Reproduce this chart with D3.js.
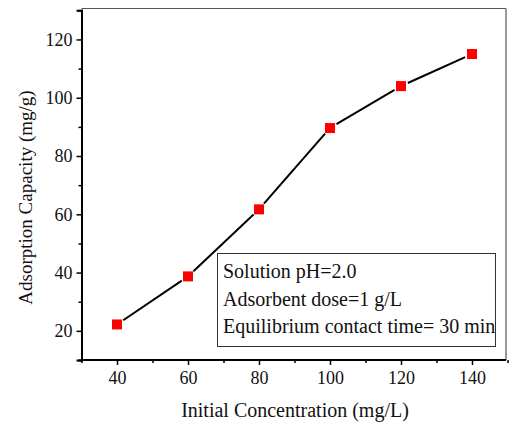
<!DOCTYPE html>
<html><head><meta charset="utf-8">
<script src="https://cdn.jsdelivr.net/npm/d3@7/dist/d3.min.js"></script>
<style>body{margin:0;background:#fff}svg{display:block}</style>
</head><body>
<svg id="c" width="509" height="424"></svg>
<script>
const concentrations = [40, 60, 80, 100, 120, 140];
const capacities = [22.2, 38.7, 61.7, 89.6, 104, 115];
const xTicks = [40, 60, 80, 100, 120, 140];
const yTicks = [20, 40, 60, 80, 100, 120];
const legendLines = ["Solution pH=2.0", "Adsorbent dose=1 g/L", "Equilibrium contact time= 30 min"];
const xTitle = "Initial Concentration (mg/L)";
const yTitle = "Adsorption Capacity (mg/g)";

const svg = d3.select("#c");
const font = "Liberation Serif, Times New Roman, serif";
const L = 81.5, R = 506, T = 8.5, B = 360;
const x = d3.scaleLinear().domain([30, 150]).range([L, L + 120 * 3.55]);
const y = d3.scaleLinear().domain([10, 130]).range([B, B - 120 * 2.914]);

svg.append("line").attr("x1", L).attr("x2", R).attr("y1", T).attr("y2", T).attr("stroke", "#555").attr("stroke-width", 1);
svg.append("line").attr("x1", R).attr("x2", R).attr("y1", T).attr("y2", B).attr("stroke", "#777").attr("stroke-width", 1.5);

const xAxis = d3.axisBottom(x).tickValues(xTicks).tickSize(5).tickPadding(6).tickFormat(d3.format("d"));
const yAxis = d3.axisLeft(y).tickValues(yTicks).tickSize(5).tickPadding(4).tickFormat(d3.format("d"));
const gx = svg.append("g").attr("transform", `translate(0,${B})`).call(xAxis);
const gy = svg.append("g").attr("transform", `translate(${L},0)`).call(yAxis);
const xMinor = d3.axisBottom(x).tickValues(d3.range(30, 151, 20)).tickSize(3).tickFormat("");
const yMinor = d3.axisLeft(y).tickValues(d3.range(10, 131, 20)).tickSize(3).tickFormat("");
const gxm = svg.append("g").attr("transform", `translate(0,${B})`).call(xMinor);
const gym = svg.append("g").attr("transform", `translate(${L},0)`).call(yMinor);
[gx, gy, gxm, gym].forEach(g => {
  g.attr("font-family", font).attr("font-size", 18);
  g.select(".domain").attr("stroke", "#000").attr("stroke-width", 2);
  g.selectAll(".tick line").attr("stroke", "#000").attr("stroke-width", 1.5);
  g.selectAll("text").style("font-family", font).style("font-size", "18px").attr("fill", "#111");
});
gx.select(".domain").attr("d", `M${L},0H${R}`);
gxm.select(".domain").attr("d", `M${L},0H${R}`);

const pts = concentrations.map((c, i) => [x(c), y(capacities[i])]);
const gap = 7.5;
for (let i = 0; i < pts.length - 1; i++) {
  const [x1, y1] = pts[i], [x2, y2] = pts[i + 1];
  const dx = x2 - x1, dy = y2 - y1, len = Math.hypot(dx, dy);
  const ux = dx / len, uy = dy / len;
  svg.append("line")
    .attr("x1", x1 + ux * gap).attr("y1", y1 + uy * gap)
    .attr("x2", x2 - ux * gap).attr("y2", y2 - uy * gap)
    .attr("stroke", "#000").attr("stroke-width", 2);
}
svg.selectAll("rect.m").data(concentrations).enter().append("rect").attr("class", "m")
  .attr("x", d => x(d) - 5).attr("y", (d, i) => y(capacities[i]) - 5)
  .attr("width", 10).attr("height", 10).attr("fill", "#f00");

svg.append("rect").attr("x", 217.5).attr("y", 253.5).attr("width", 278).attr("height", 93)
  .attr("fill", "#fff").attr("stroke", "#333").attr("stroke-width", 1);
svg.selectAll("text.lg").data(legendLines).enter().append("text").attr("class", "lg")
  .attr("x", 223).attr("y", (d, i) => 278 + i * 27.5)
  .style("font-family", font).style("font-size", "20px").attr("fill", "#111").text(d => d);

svg.append("text").attr("x", 295).attr("y", 417).attr("text-anchor", "middle")
  .style("font-family", font).style("font-size", "20px").attr("fill", "#111").text(xTitle);
svg.append("text").attr("transform", "translate(32,197.5) rotate(-90)").attr("text-anchor", "middle")
  .style("font-family", font).style("font-size", "19px").attr("fill", "#111").text(yTitle);
</script>
</body></html>
